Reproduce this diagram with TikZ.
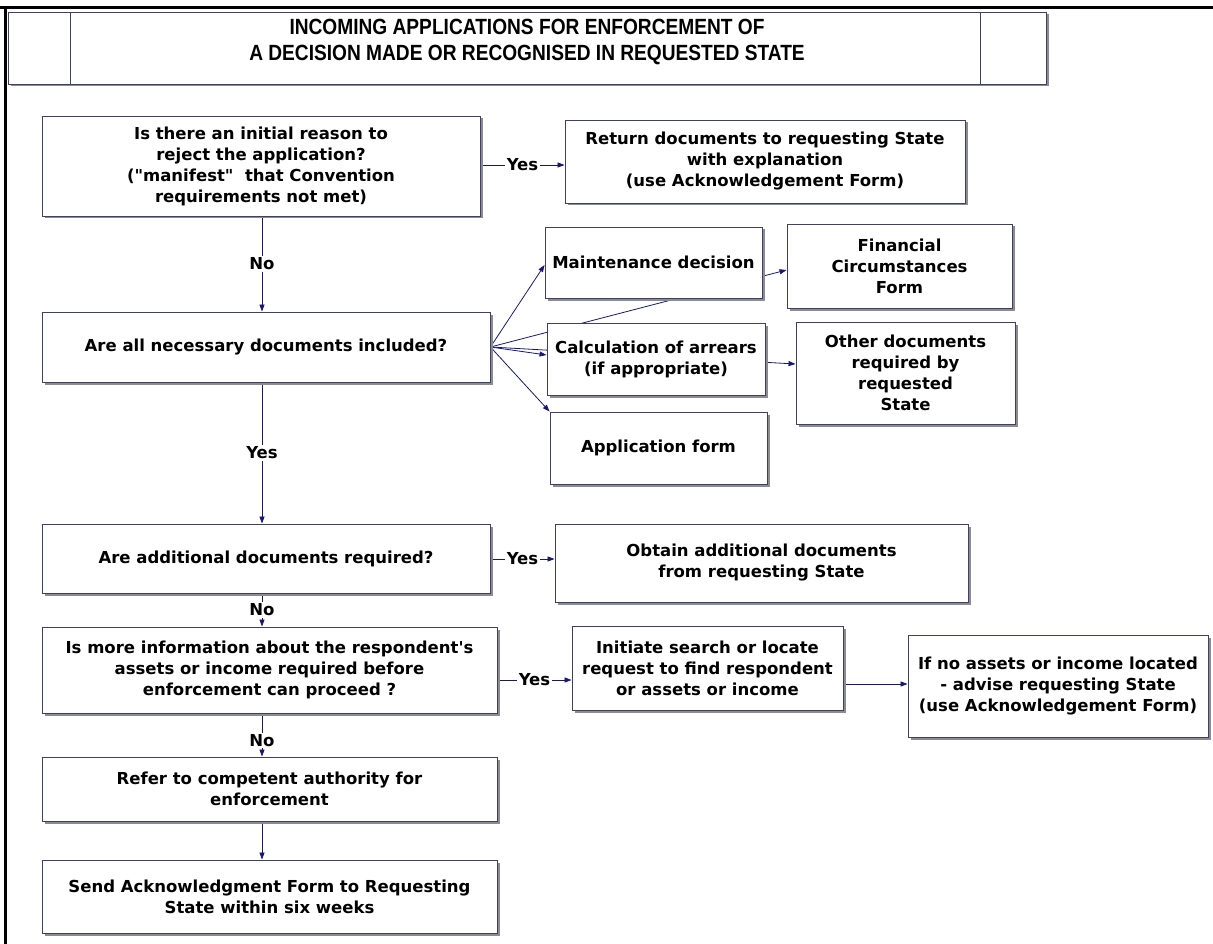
\documentclass[tikz,border=0pt]{standalone}
\usepackage{fontspec}
\usetikzlibrary{arrows.meta,shadows,backgrounds}
\newfontfamily\boxfont{DejaVu Sans}
\newfontfamily\headfont{Liberation Sans}[FakeStretch=0.87]
\definecolor{boxline}{RGB}{62,62,112}
\definecolor{linkline}{RGB}{24,24,112}
\tikzset{
  flowbox/.style={draw=boxline, line width=0.9pt, fill=white, inner sep=2pt,
    align=center, font=\boxfont\bfseries\fontsize{16.5}{21}\selectfont,
    drop shadow={shadow xshift=2.5pt, shadow yshift=-2.5pt, fill=black!45, opacity=1}},
  link/.style={draw=linkline, line width=0.8pt},
  arrowlink/.style={link, -{Triangle[length=7pt,width=5pt]}},
  tag/.style={fill=white, inner sep=1.5pt, font=\boxfont\bfseries\fontsize{16.5}{18}\selectfont}
}
\begin{document}
\begin{tikzpicture}[x=1pt,y=-1pt]
\useasboundingbox (0,0) rectangle (1213,944);

% page frame
\draw[line width=3pt] (0,8) -- (1213,8);
\draw[line width=3pt] (5,8) -- (5,944);

% heading box with its two side panels
\node[flowbox, minimum width=1038, minimum height=72] (tbox) at (527,48) {};
\draw[draw=boxline, line width=0.6pt] ([xshift=63pt]tbox.north west) -- ([xshift=63pt]tbox.south west);
\draw[draw=boxline, line width=0.6pt] ([xshift=-66pt]tbox.north east) -- ([xshift=-66pt]tbox.south east);
\node[font=\headfont\bfseries\fontsize{22}{26}\selectfont, align=center] (title) at (527,42)
  {INCOMING APPLICATIONS FOR ENFORCEMENT OF\\A DECISION MADE OR RECOGNISED IN REQUESTED STATE};

% main column
\coordinate (spine) at (262,0);
\node[flowbox, minimum width=438, minimum height=100] (q1) at (261,166)
  {Is there an initial reason to\\reject the application?\\(\char`\"manifest\char`\"\ \ that Convention\\requirements not met)};
\node[flowbox, minimum width=448, minimum height=70] (q2) at (266,347)
  {Are all necessary documents included?};
\node[flowbox, minimum width=448, minimum height=69] (q3) at (266,558.5)
  {Are additional documents required?};
\node[flowbox, minimum width=455, minimum height=86] (q4) at (269.5,670)
  {Is more information about the respondent's\\assets or income required before\\enforcement can proceed ?};
\node[flowbox, minimum width=455, minimum height=64] (rf) at (269.5,789)
  {Refer to competent authority for\\enforcement};
\node[flowbox, minimum width=455, minimum height=73] (sd) at (269.5,896.5)
  {Send Acknowledgment Form to Requesting\\State within six weeks};

% outcomes on the right
\node[flowbox, minimum width=400, minimum height=83] (r1) at (765,161.5)
  {Return documents to requesting State\\with explanation\\(use Acknowledgement Form)};
\node[flowbox, minimum width=217, minimum height=71] (md) at (653.5,262.5)
  {Maintenance decision};
\node[flowbox, minimum width=225, minimum height=84] (fcf) at (899.5,266)
  {Financial\\Circumstances\\Form};
\node[flowbox, minimum width=218, minimum height=72] (ca) at (656,359)
  {Calculation of arrears\\(if appropriate)};
\node[flowbox, minimum width=219, minimum height=102] (od) at (905.5,373)
  {Other documents\\required by\\requested\\State};
\node[flowbox, minimum width=217, minimum height=72] (af) at (658.5,448)
  {Application form};
\node[flowbox, minimum width=413, minimum height=78] (ob) at (761.5,563)
  {Obtain additional documents\\from requesting State};
\node[flowbox, minimum width=271, minimum height=84] (in) at (707.5,668)
  {Initiate search or locate\\request to find respondent\\or assets or income};
\node[flowbox, minimum width=300, minimum height=102] (na) at (1058,686)
  {If no assets or income located\\- advise requesting State\\(use Acknowledgement Form)};

% connectors, kept behind the boxes
\begin{scope}[on background layer]
  \draw[arrowlink] (q1.east |- 0,165) -- (r1.west |- 0,165) node[tag, midway] {Yes};
  \draw[arrowlink] (q1.south -| spine) -- (q2.north -| spine) node[tag, midway] {No};
  \draw[arrowlink] (q2.south -| spine) -- (q3.north -| spine) node[tag, midway] {Yes};
  \draw[arrowlink] (q3.east |- 0,559) -- (ob.west |- 0,559) node[tag, midway] {Yes};
  \draw[arrowlink] (q3.south -| spine) -- (q4.north -| spine) node[tag, midway] {No};
  \draw[arrowlink] (q4.east |- 0,680) -- (in.west |- 0,680) node[tag, midway] {Yes};
  \draw[arrowlink] (in.east |- 0,684) -- (na.west |- 0,684);
  \draw[arrowlink] (q4.south -| spine) -- (rf.north -| spine) node[tag, pos=0.62] {No};
  \draw[arrowlink] (rf.south -| spine) -- (sd.north -| spine);
  % documents fanning out from the checklist question
  \draw[arrowlink] (q2.east) -- (md.west |- 0,265);
  \draw[arrowlink] (q2.east) -- (fcf.west |- 0,270);
  \draw[arrowlink] (q2.east) -- (ca.west |- 0,355);
  \draw[arrowlink] (q2.east) -- (od.west |- 0,364);
  \draw[arrowlink] (q2.east) -- (af.north west);
\end{scope}
\end{tikzpicture}
\end{document}
